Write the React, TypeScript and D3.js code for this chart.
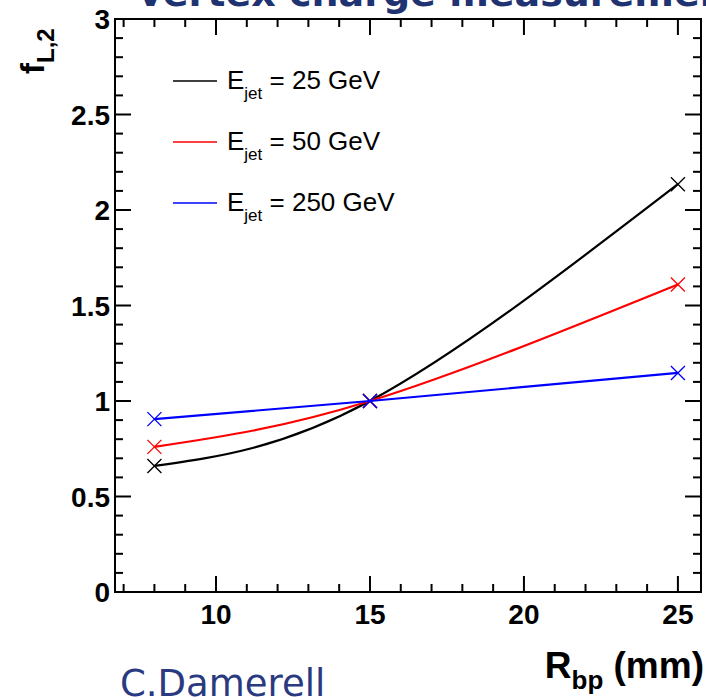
import React, {useEffect, useRef} from "react";
import * as d3 from "d3";

// beam pipe radius (mm) and f_L,2 for each jet energy
const rbp = [8, 15, 25];
const f25 = [0.66, 1.0, 2.135];
const f50 = [0.76, 1.0, 1.61];
const f250 = [0.905, 1.0, 1.147];

const seriesNames = ["25 GeV", "50 GeV", "250 GeV"];
const seriesColors = ["#000000", "#ff0000", "#0000ff"];
const xMajor = [10, 15, 20, 25];
const yMajor = [0, 0.5, 1, 1.5, 2, 2.5, 3];

const W = 706;
const H = 700;
const frame = {left: 115, right: 701, top: 19, bottom: 592};

export default function App()
{
    const ref = useRef<SVGSVGElement>(null);

    useEffect(() =>
    {
        const svg = d3.select(ref.current);
        svg.selectAll("*").remove();

        const x = d3.scaleLinear().domain([6.72, 25.75]).range([frame.left, frame.right]);
        const y = d3.scaleLinear().domain([0, 3]).range([frame.bottom, frame.top]);

        // title, cut off at the top of the slide
        svg.append("text")
            .attr("x", 138)
            .attr("y", 6)
            .attr("font-family", "DejaVu Sans")
            .attr("font-weight", "bold")
            .attr("font-size", 38)
            .attr("fill", "#1f3272")
            .text("vertex charge measurement");

        const g = svg.append("g");

        // frame
        g.append("rect")
            .attr("x", frame.left)
            .attr("y", frame.top)
            .attr("width", frame.right - frame.left)
            .attr("height", frame.bottom - frame.top)
            .attr("fill", "none")
            .attr("stroke", "#000")
            .attr("stroke-width", 2);

        // ticks on all four sides, pointing inward
        const yTicks = d3.range(0, 30.01, 1).map((v) => v / 10);
        yTicks.forEach((v) =>
        {
            const major = Math.round(v * 10) % 5 === 0;
            const len = major ? 16 : 8;
            g.append("line").attr("x1", frame.left).attr("x2", frame.left + len)
                .attr("y1", y(v)).attr("y2", y(v)).attr("stroke", "#000").attr("stroke-width", 2);
            g.append("line").attr("x1", frame.right).attr("x2", frame.right - len)
                .attr("y1", y(v)).attr("y2", y(v)).attr("stroke", "#000").attr("stroke-width", 2);
        });
        const xTicks = d3.range(7, 26, 1);
        xTicks.forEach((v) =>
        {
            const major = v % 5 === 0;
            const len = major ? 16 : 8;
            g.append("line").attr("x1", x(v)).attr("x2", x(v))
                .attr("y1", frame.bottom).attr("y2", frame.bottom - len).attr("stroke", "#000").attr("stroke-width", 2);
            g.append("line").attr("x1", x(v)).attr("x2", x(v))
                .attr("y1", frame.top).attr("y2", frame.top + len).attr("stroke", "#000").attr("stroke-width", 2);
        });

        // tick labels
        g.selectAll(".ylab")
            .data(yMajor)
            .enter()
            .append("text")
            .attr("x", frame.left - 5)
            .attr("y", (d) => y(d) + 10)
            .attr("text-anchor", "end")
            .attr("font-family", "Liberation Sans")
            .attr("font-weight", "bold")
            .attr("font-size", 28)
            .text((d) => String(d));

        g.selectAll(".xlab")
            .data(xMajor)
            .enter()
            .append("text")
            .attr("x", (d) => x(d))
            .attr("y", frame.bottom + 32)
            .attr("text-anchor", "middle")
            .attr("font-family", "Liberation Sans")
            .attr("font-weight", "bold")
            .attr("font-size", 28)
            .text((d) => String(d));

        // axis titles
        const xt = svg.append("text")
            .attr("x", 704)
            .attr("y", 678)
            .attr("text-anchor", "end")
            .attr("font-family", "Liberation Sans")
            .attr("font-weight", "bold")
            .attr("font-size", 37);
        xt.append("tspan").text("R");
        xt.append("tspan").attr("font-size", 26).attr("dy", 11).text("bp");
        xt.append("tspan").attr("dy", -11).text(" (mm)");

        const yt = svg.append("text")
            .attr("transform", "translate(44, 74) rotate(-90)")
            .attr("font-family", "Liberation Sans")
            .attr("font-weight", "bold")
            .attr("font-size", 33);
        yt.append("tspan").text("f");
        yt.append("tspan").attr("font-size", 24).attr("dy", 10).text("L,2");

        // curves and markers
        const allSeries = [f25, f50, f250];
        const line = d3.line<number>()
            .x((_, i) => x(rbp[i]))
            .y((d) => y(d))
            .curve(d3.curveNatural);

        allSeries.forEach((vals, k) =>
        {
            g.append("path")
                .datum(vals)
                .attr("fill", "none")
                .attr("stroke", seriesColors[k])
                .attr("stroke-width", 2.2)
                .attr("d", line);

            const s = 7;
            vals.forEach((v, i) =>
            {
                const cx = x(rbp[i]);
                const cy = y(v);
                g.append("path")
                    .attr("d", `M${cx - s},${cy - s}L${cx + s},${cy + s}M${cx - s},${cy + s}L${cx + s},${cy - s}`)
                    .attr("stroke", seriesColors[k])
                    .attr("stroke-width", 1.3)
                    .attr("fill", "none");
            });
        });

        // legend
        const legend = svg.append("g");
        seriesNames.forEach((name, k) =>
        {
            const ly = 81 + k * 61;
            legend.append("line")
                .attr("x1", 173).attr("x2", 217)
                .attr("y1", ly).attr("y2", ly)
                .attr("stroke", seriesColors[k])
                .attr("stroke-width", 1.5);
            const t = legend.append("text")
                .attr("x", 227)
                .attr("y", ly + 8)
                .attr("font-family", "Liberation Sans")
                .attr("font-size", 26);
            t.append("tspan").text("E");
            t.append("tspan").attr("font-size", 17).attr("dy", 10).text("jet");
            t.append("tspan").attr("dy", -10).text(" = " + name);
        });

        // author credit
        svg.append("text")
            .attr("x", 120)
            .attr("y", 696)
            .attr("font-family", "DejaVu Sans")
            .attr("font-size", 37)
            .attr("fill", "#2a3a80")
            .text("C.Damerell");
    }, []);

    return (
        <svg ref={ref} width={W} height={H}
             style={{position: "absolute", left: 0, top: 0, background: "#fff"}}/>
    );
}
